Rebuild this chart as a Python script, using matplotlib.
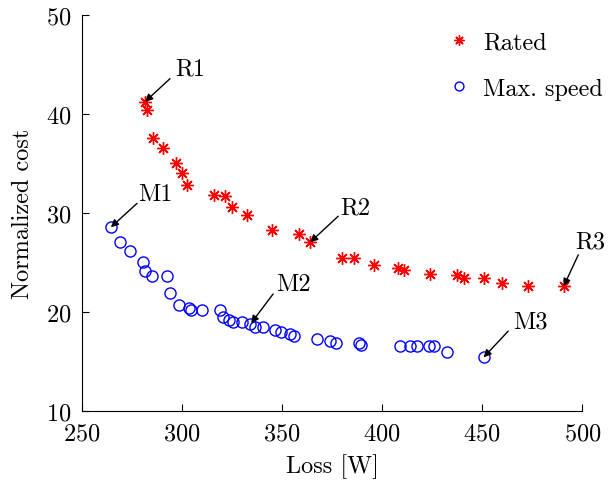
import numpy as np
import matplotlib
matplotlib.use("Agg")
import matplotlib.pyplot as plt

plt.rcParams['font.family'] = 'serif'
plt.rcParams['font.serif'] = ['cmr10']
plt.rcParams['mathtext.fontset'] = 'cm'
plt.rcParams['axes.formatter.use_mathtext'] = True

# Rated operating point designs
rated_loss = [281.5, 282.7, 285.4, 290.7, 297.0, 299.9, 302.7, 316.0, 321.7, 324.9,
              332.5, 344.7, 358.5, 364.0, 379.9, 385.7, 395.7, 407.9, 411.0, 424.0,
              437.4, 441.0, 450.7, 459.9, 472.7, 490.7]
rated_cost = [41.27, 40.43, 37.58, 36.63, 35.08, 34.04, 32.86, 31.88, 31.72, 30.61,
              29.86, 28.28, 27.91, 27.07, 25.48, 25.48, 24.81, 24.51, 24.27, 23.87,
              23.77, 23.46, 23.46, 22.95, 22.69, 22.63]

# Max. speed designs
max_loss = [264.4, 269.0, 274.0, 280.7, 281.5, 284.9, 292.4, 294.0, 298.7, 303.7,
            304.4, 310.2, 319.0, 320.7, 323.5, 325.7, 329.9, 333.7, 336.5, 340.4,
            346.2, 349.5, 353.7, 355.7, 367.4, 374.0, 377.0, 388.2, 389.4, 408.7,
            413.7, 417.4, 423.5, 425.7, 432.4, 450.7]
max_cost = [28.59, 27.07, 26.16, 25.11, 24.20, 23.70, 23.70, 21.95, 20.77, 20.43,
            20.26, 20.23, 20.26, 19.49, 19.25, 18.99, 19.05, 18.82, 18.55, 18.48,
            18.24, 17.98, 17.81, 17.64, 17.30, 17.07, 16.90, 16.87, 16.73, 16.63,
            16.63, 16.63, 16.63, 16.63, 15.96, 15.45]

# labelled designs: (label, point, arrow tail, text position)
labels = [
    ('R1', (281.5, 41.27), (294.0, 43.6), (304.0, 44.6)),
    ('M1', (264.4, 28.59), (277.5, 31.0), (286.5, 32.0)),
    ('R2', (364.0, 27.07), (378.0, 29.7), (386.5, 30.6)),
    ('M2', (334.5, 18.9), (345.5, 21.85), (355.5, 22.9)),
    ('R3', (490.7, 22.63), (498.0, 25.8), (504.0, 27.2)),
    ('M3', (450.7, 15.45), (463.0, 18.1), (474.0, 19.1)),
]

fs = 17.5

fig = plt.figure(figsize=(6.08, 4.89), dpi=100)
ax = fig.add_axes([0.1349, 0.1569, 0.8228, 0.8098])

ax.plot(rated_loss, rated_cost, linestyle='none', marker=(8, 2, 0), color='red',
        markersize=9, markeredgewidth=1.0, label='Rated')
ax.plot(max_loss, max_cost, linestyle='none', marker='o', markerfacecolor='none',
        markeredgecolor='blue', markersize=8, markeredgewidth=1.0, label='Max. speed')

for name, pt, tail, txt in labels:
    ax.annotate('', xy=pt, xytext=tail,
                arrowprops=dict(arrowstyle='-|>', color='black', lw=1.0,
                                mutation_scale=11, shrinkA=0, shrinkB=0))
    ax.text(txt[0], txt[1], name, fontsize=fs, ha='center', va='center')

ax.set_xlim(250, 500)
ax.set_ylim(10, 50)
ax.set_xticks([250, 300, 350, 400, 450, 500])
ax.set_yticks([10, 20, 30, 40, 50])
ax.spines['top'].set_visible(False)
ax.spines['right'].set_visible(False)
ax.tick_params(direction='in', length=5, labelsize=fs, pad=8)
ax.set_xlabel('Loss [W]', fontsize=fs, labelpad=6)
ax.set_ylabel('Normalized cost', fontsize=fs, labelpad=8)

ax.legend(loc='upper right', frameon=False, fontsize=fs, handletextpad=0.5,
          borderaxespad=0.0, labelspacing=1.0, handlelength=1.0, markerscale=0.8,
          bbox_to_anchor=(1.06, 0.985))

fig.savefig('out.png', dpi=100)
